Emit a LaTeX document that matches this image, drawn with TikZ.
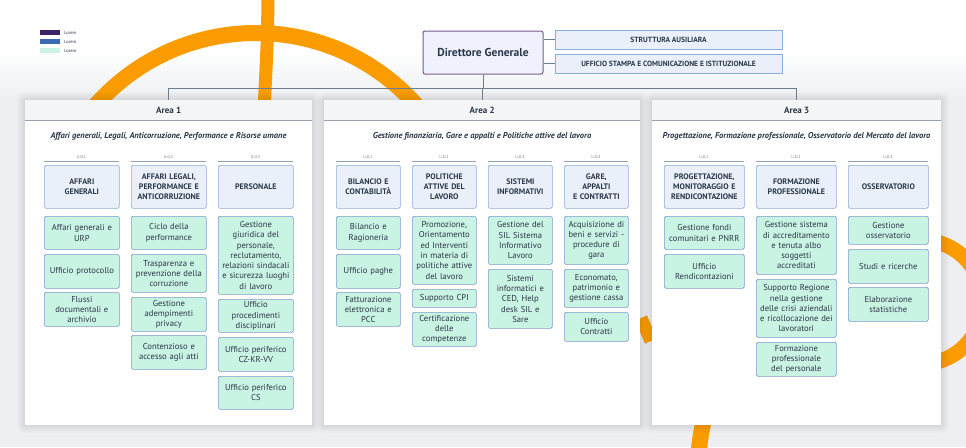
\documentclass[tikz,border=0pt]{standalone}
\usepackage{fontspec}
\setmainfont{PT Sans}
\definecolor{txt}{HTML}{2B3648}
\definecolor{leaffill}{HTML}{C9F3E3}
\definecolor{leafbd}{HTML}{7C9BC9}
\definecolor{headfill}{HTML}{E9F0FA}
\definecolor{headbd}{HTML}{8DADD9}
\definecolor{dgfill}{HTML}{EFF2FC}
\definecolor{dgbd}{HTML}{7A5B8E}
\definecolor{connc}{HTML}{6E7D8C}
\definecolor{bgg}{HTML}{EDEFF2}
\definecolor{phead}{HTML}{F4F5F7}
\definecolor{psep}{HTML}{97A1AD}
\definecolor{orng}{HTML}{FA9C00}
\definecolor{legA}{HTML}{3E2363}
\definecolor{legB}{HTML}{3B6AB4}
\definecolor{legC}{HTML}{CCF4E6}
\definecolor{uogrey}{HTML}{6B7684}
\begin{document}
\begin{tikzpicture}[x=1pt,y=-1pt,
  ring/.style={draw=orng, line width=16pt},
  conn/.style={draw=connc, line width=0.8pt},
  halo/.style={fill=black, fill opacity=0.012},
  phd/.style={fill=phead, minimum width=#1, minimum height=20pt, inner sep=0pt, text=txt, font=\bfseries\fontsize{9}{11}\selectfont},
  psepl/.style={draw=psep, line width=0.7pt},
  subt/.style={text=txt, inner sep=0pt, font=\bfseries\itshape\fontsize{8.5}{10}\selectfont},
  uolab/.style={text=uogrey, inner sep=0.5pt, anchor=south, font=\fontsize{4}{5}\selectfont},
  uoline/.style={draw=psep, line width=0.5pt},
  head/.style={draw=headbd, fill=headfill, line width=0.7pt, rounded corners=1.5pt, anchor=north west, align=center, inner sep=0pt, minimum height=43pt, text=txt, font=\bfseries\fontsize{8}{10}\selectfont},
  leaf/.style={draw=leafbd, fill=leaffill, line width=0.7pt, rounded corners=1.5pt, anchor=north west, align=center, inner sep=0pt, text=txt, font=\fontsize{8.6}{10.3}\selectfont},
  wA/.style={minimum width=75pt, text width=73pt},
  wB/.style={minimum width=64pt, text width=63pt},
  wC/.style={minimum width=80pt, text width=78pt},
  dgbox/.style={draw=dgbd, fill=dgfill, line width=1pt, rounded corners=2pt, minimum width=120pt, minimum height=43pt, inner sep=0pt, text=txt, font=\bfseries\fontsize{11.5}{13}\selectfont},
  aux/.style={draw=headbd, fill=headfill, line width=0.7pt, minimum width=227pt, minimum height=19pt, inner sep=0pt, text=txt, font=\bfseries\fontsize{7.5}{9}\selectfont},
  swatch/.style={minimum width=20pt, minimum height=5pt, inner sep=0pt},
  leglab/.style={anchor=west, inner sep=0pt, text=txt, font=\fontsize{4.5}{5}\selectfont}
]
\useasboundingbox (0,0) rectangle (966,447);
% background
\fill[white] (0,0) rectangle (966,447);
\shade[top color=white, bottom color=bgg] (0,50) rectangle (966,100);
\fill[bgg] (0,100) rectangle (966,447);
% decorative rings
\draw[ring] (42,247) arc[start angle=180, end angle=360, radius=214];
\draw[draw=orng, line width=13pt] (268,-5) .. controls (267.5,40) .. (264,110);
\draw[ring, line width=15pt] (921,240) arc[start angle=-90, end angle=90, radius=62];
\draw[ring, line width=16pt] (698,470) arc[start angle=180, end angle=270, radius=215];
\draw[ring, line width=13pt] (641,318) -- (651,341);
% legend
\node[swatch, fill=legA] (lg1) at (50,32.5) {};
\node[swatch, fill=legB] (lg2) at (50,41.5) {};
\node[swatch, fill=legC] (lg3) at (50,50.5) {};
\node[leglab] (lt1) at ([xshift=4pt]lg1.east) {Lorem};
\node[leglab] (lt2) at ([xshift=4pt]lg2.east) {Lorem};
\node[leglab] (lt3) at ([xshift=4pt]lg3.east) {Lorem};
% top
\node[dgbox] (dg) at (483,52.5) {Direttore Generale};
\node[aux] (sa) at (668.5,39.5) {STRUTTURA AUSILIARA};
\node[aux] (us) at (668.5,63.5) {UFFICIO STAMPA E COMUNICAZIONE E ISTITUZIONALE};
\draw[conn] (dg.east |- sa.west) -- (sa.west);
\draw[conn] (dg.east |- us.west) -- (us.west);
% panel halos (soft shadow)
\foreach \d in {1,2,3,4,5,6,7,8}{
  \fill[halo, rounded corners=\d pt] (25-\d,100-\d) rectangle (312+\d,425+\d);
  \fill[halo, rounded corners=\d pt] (324-\d,100-\d) rectangle (640+\d,425+\d);
  \fill[halo, rounded corners=\d pt] (652-\d,100-\d) rectangle (941+\d,425+\d);
}
% panels
\fill[white] (25,100) rectangle (312,425);
\fill[white] (324,100) rectangle (640,425);
\fill[white] (652,100) rectangle (941,425);
\node[phd=287pt, anchor=north west] (p1) at (25,100) {Area 1};
\node[phd=316pt, anchor=north west] (p2) at (324,100) {Area 2};
\node[phd=289pt, anchor=north west] (p3) at (652,100) {Area 3};
\draw[psepl] (p1.south west) -- (p1.south east);
\draw[psepl] (p2.south west) -- (p2.south east);
\draw[psepl] (p3.south west) -- (p3.south east);
% tree connectors
\coordinate (bus) at (483,88);
\draw[conn] (dg.south) -- (dg.south |- bus);
\draw[conn] (p1.north |- bus) -- (p3.north |- bus);
\draw[conn] (p1.north |- bus) -- (p1.north);
\draw[conn] (p2.north |- bus) -- (p2.north);
\draw[conn] (p3.north |- bus) -- (p3.north);
% subtitles
\node[subt] (s1) at (168.5,136) {Affari generali, Legali, Anticorruzione, Performance e Risorse umane};
\node[subt] (s2) at (482,136) {Gestione finanziaria, Gare e appalti e Politiche attive del lavoro};
\node[subt] (s3) at (796.5,136) {Progettazione, Formazione professionale, Osservatorio del Mercato del lavoro};
% U.O. labels
\foreach \x/\w/\l in {44/75/1,131/75/2,218/75/3,336/64/1,412/64/2,488/64/3,564/64/4,664/80/1,756/80/2,848/80/3}{
  \node[uolab] (uo\x) at (\x+\w/2,159) {U.O.\l};
  \draw[uoline] (\x,161) -- (\x+\w,161);
}
% Area 1
\node[head,wA] (h11) at (44,165) {AFFARI\\GENERALI};
\node[head,wA] (h12) at (131,165) {AFFARI LEGALI,\\PERFORMANCE E\\ANTICORRUZIONE};
\node[head,wA] (h13) at (218,165) {PERSONALE};
\node[leaf,wA,minimum height=33pt] (a11) at (44,216) {Affari generali e\\URP};
\node[leaf,wA,minimum height=34pt] (a12) at (44,254) {Ufficio protocollo};
\node[leaf,wA,minimum height=34pt] (a13) at (44,292) {Flussi\\documentali e\\archivio};
\node[leaf,wA,minimum height=33pt] (a21) at (131,216) {Ciclo della\\performance};
\node[leaf,wA,minimum height=38pt] (a22) at (131,254) {Trasparenza e\\prevenzione della\\corruzione};
\node[leaf,wA,minimum height=34pt] (a23) at (131,297) {Gestione\\adempimenti\\privacy};
\node[leaf,wA,minimum height=34pt] (a24) at (131,335) {Contenzioso e\\accesso agli atti};
\node[leaf,wA,minimum height=78pt] (a31) at (218,216) {Gestione\\giuridica del\\personale,\\reclutamento,\\relazioni sindacali\\e sicurezza luoghi\\di lavoro};
\node[leaf,wA,minimum height=33pt] (a32) at (218,299) {Ufficio\\procedimenti\\disciplinari};
\node[leaf,wA,minimum height=34pt] (a33) at (218,337) {Ufficio periferico\\CZ-KR-VV};
\node[leaf,wA,minimum height=33pt] (a34) at (218,376) {Ufficio periferico\\CS};
% Area 2
\node[head,wB] (h21) at (336,165) {BILANCIO E\\CONTABILITÀ};
\node[head,wB] (h22) at (412,165) {POLITICHE\\ATTIVE DEL\\LAVORO};
\node[head,wB] (h23) at (488,165) {SISTEMI\\INFORMATIVI};
\node[head,wB] (h24) at (564,165) {GARE,\\APPALTI\\E CONTRATTI};
\node[leaf,wB,minimum height=33pt] (b11) at (336,216) {Bilancio e\\Ragioneria};
\node[leaf,wB,minimum height=34pt] (b12) at (336,254) {Ufficio paghe};
\node[leaf,wB,minimum height=34pt] (b13) at (336,292) {Fatturazione\\elettronica e\\PCC};
\node[leaf,wB,minimum height=68pt] (b21) at (412,216) {Promozione,\\Orientamento\\ed Interventi\\in materia di\\politiche attive\\del lavoro};
\node[leaf,wB,minimum height=18pt] (b22) at (412,289) {Supporto CPI};
\node[leaf,wB,minimum height=34pt] (b23) at (412,312) {Certificazione\\delle\\competenze};
\node[leaf,wB,minimum height=48pt] (b31) at (488,216) {Gestione del\\SIL Sistema\\Informativo\\Lavoro};
\node[leaf,wB,minimum height=59pt] (b32) at (488,269) {Sistemi\\informatici e\\CED, Help\\desk SIL e\\Sare};
\node[leaf,wB,minimum height=48pt] (b41) at (564,216) {Acquisizione di\\beni e servizi -\\procedure di\\gara};
\node[leaf,wB,minimum height=38pt] (b42) at (564,269) {Economato,\\patrimonio e\\gestione cassa};
\node[leaf,wB,minimum height=29pt] (b43) at (564,312) {Ufficio\\Contratti};
% Area 3
\node[head,wC] (h31) at (664,165) {PROGETTAZIONE,\\MONITORAGGIO E\\RENDICONTAZIONE};
\node[head,wC] (h32) at (756,165) {FORMAZIONE\\PROFESSIONALE};
\node[head,wC] (h33) at (848,165) {OSSERVATORIO};
\node[leaf,wC,minimum height=33pt] (c11) at (664,216) {Gestione fondi\\comunitari e PNRR};
\node[leaf,wC,minimum height=34pt] (c12) at (664,254) {Ufficio\\Rendicontazioni};
\node[leaf,wC,minimum height=58pt] (c21) at (756,216) {Gestione sistema\\di accreditamento\\e tenuta albo\\soggetti\\accreditati};
\node[leaf,wC,minimum height=58pt] (c22) at (756,279) {Supporto Regione\\nella gestione\\delle crisi aziendali\\e ricollocazione dei\\lavoratori};
\node[leaf,wC,minimum height=34pt] (c23) at (756,342) {Formazione\\professionale\\del personale};
\node[leaf,wC,minimum height=28pt] (c31) at (848,216) {Gestione\\osservatorio};
\node[leaf,wC,minimum height=34pt] (c32) at (848,249) {Studi e ricerche};
\node[leaf,wC,minimum height=34pt] (c33) at (848,287) {Elaborazione\\statistiche};
\end{tikzpicture}
\end{document}
